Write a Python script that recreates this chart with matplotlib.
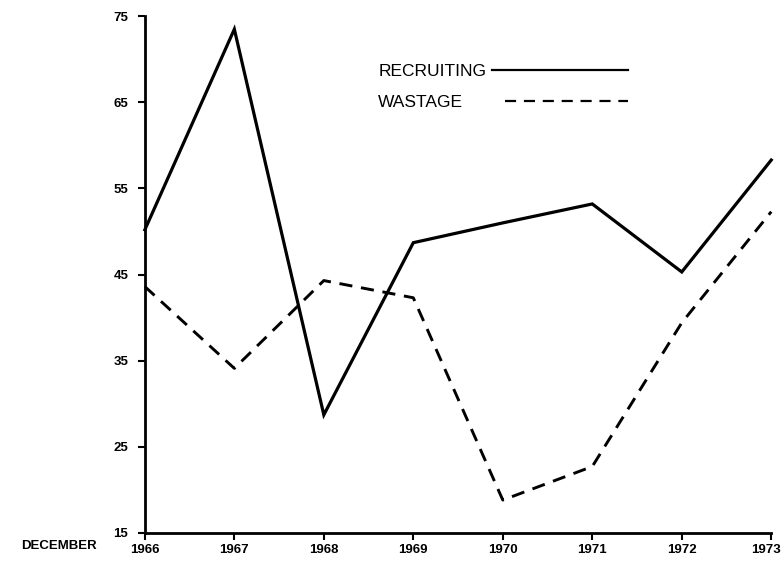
import matplotlib
matplotlib.use("Agg")
import matplotlib.pyplot as plt
import matplotlib.transforms as mtransforms
from matplotlib.lines import Line2D

years = [1966, 1967, 1968, 1969, 1970, 1971, 1972, 1973]
recruiting = [50.2, 73.5, 28.7, 48.7, 51.0, 53.2, 45.3, 58.3]
wastage = [43.6, 34.1, 44.3, 42.3, 18.8, 22.7, 39.4, 52.3]
yticks = [15, 25, 35, 45, 55, 65, 75]
series_names = ['RECRUITING', 'WASTAGE']

plt.rcParams['font.family'] = ['Liberation Sans', 'DejaVu Sans']

fig = plt.figure(figsize=(7.83, 5.62), dpi=100)
ax = fig.add_axes([0.185, 0.052, 0.800, 0.919])

ax.plot(years, recruiting, color='black', lw=2.3, solid_joinstyle='miter', clip_on=False)
ax.plot(years, wastage, color='black', lw=2.1, linestyle=(0, (4.5, 3.0)), clip_on=False)

ax.set_xlim(1966, 1973)
ax.set_ylim(15, 75)
ax.set_xticks(years)
ax.set_xticklabels([str(y) for y in years])
ax.set_yticks(yticks)
ax.set_yticklabels([str(t) for t in yticks])
for s in ['top', 'right']:
    ax.spines[s].set_visible(False)
for s in ['left', 'bottom']:
    ax.spines[s].set_linewidth(2.0)
ax.tick_params(axis='both', direction='out', length=5, width=1.5, labelsize=9.5)
ax.tick_params(axis='y', pad=7)
ax.tick_params(axis='x', pad=3)
for lab in ax.get_xticklabels() + ax.get_yticklabels():
    lab.set_fontweight('bold')
# nudge the last year label left so it stays inside the picture
last = ax.get_xticklabels()[-1]
last.set_transform(last.get_transform() + mtransforms.ScaledTranslation(-5 / 100, 0, fig.dpi_scale_trans))

fig.text(0.027, 0.018, 'DECEMBER', fontsize=9.5, fontweight='bold', ha='left', va='bottom')

# legend drawn manually: label text, then sample line to its right
fig.text(0.483, 0.872, series_names[0], fontsize=12.5, ha='left', va='center')
fig.text(0.483, 0.817, series_names[1], fontsize=12.5, ha='left', va='center')
fig.add_artist(Line2D([0.628, 0.802], [0.875, 0.875], transform=fig.transFigure,
                      color='black', lw=1.6))
fig.add_artist(Line2D([0.645, 0.802], [0.820, 0.820], transform=fig.transFigure,
                      color='black', lw=1.6, linestyle=(0, (5, 3.5))))

fig.savefig('out.png', dpi=100)
